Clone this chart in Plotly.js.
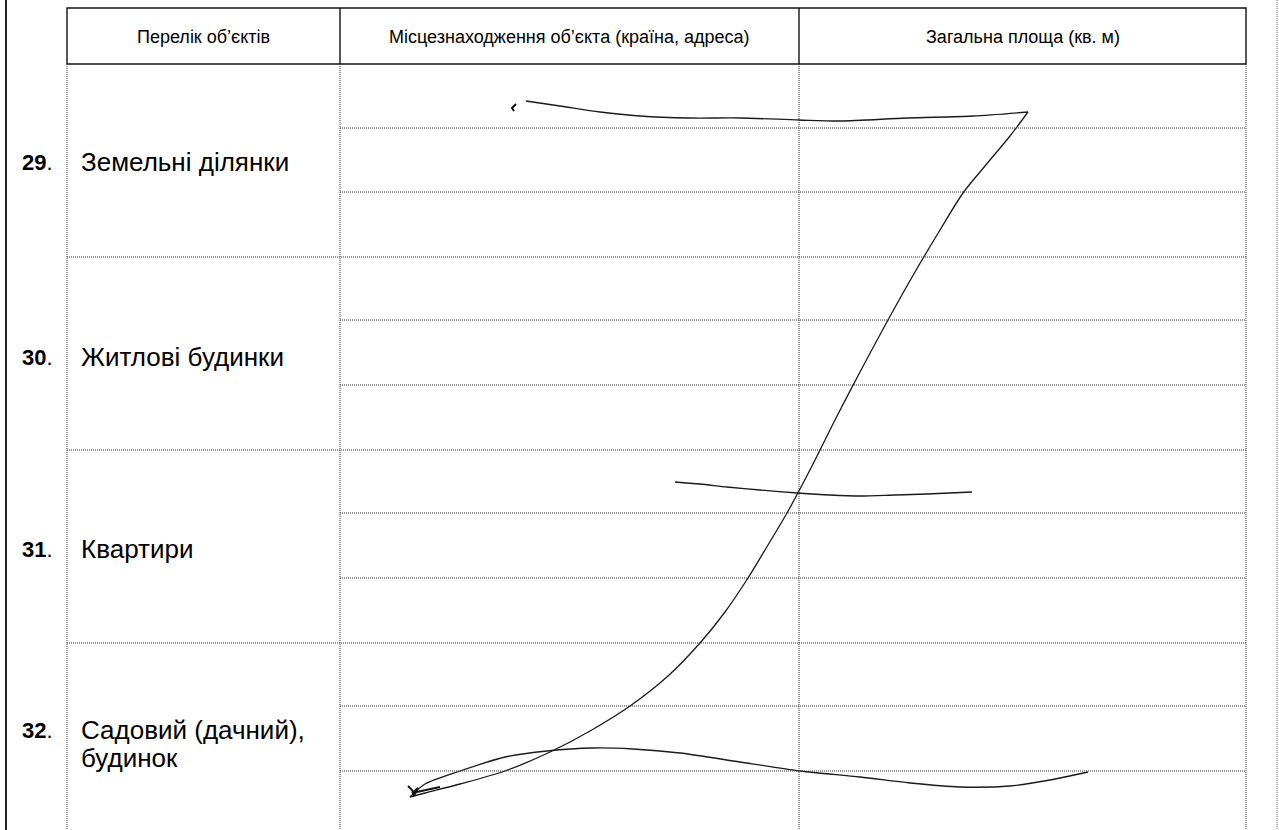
<!DOCTYPE html>
<html>
<head>
<meta charset="utf-8">
<script src="https://cdn.plot.ly/plotly-3.0.1.min.js"></script>
<style>html,body{margin:0;padding:0;background:#fff;}#chart{width:1279px;height:830px;}</style>
</head>
<body>
<div id="chart"></div>
<script>
// ---- text content ----
const headerLabels = ["Перелік об’єктів", "Місцезнаходження об’єкта (країна, адреса)", "Загальна площа (кв. м)"];
const rowNumbers = ["29", "30", "31", "32"];
const rowLabels = [["Земельні ділянки"], ["Житлові будинки"], ["Квартири"], ["Садовий (дачний),", "будинок"]];

// ---- handwritten strokes (page pixel coordinates) ----
const topStrokeX = [526, 560, 600, 640, 690, 740, 799, 840, 907, 973, 1028];
const topStrokeY = [101, 106, 112, 116, 118, 118, 120, 121, 118, 116, 112];
const diagStrokeX = [1028, 1010, 985, 963, 940, 915, 888, 860, 836, 812, 787, 768, 748, 725, 700, 668, 630, 590, 550, 505, 460, 425, 410];
const diagStrokeY = [112, 136, 166, 193, 230, 272, 320, 372, 418, 466, 513, 545, 578, 612, 643, 676, 706, 731, 752, 771, 784, 793, 797];
const lowStrokeX = [410, 425, 460, 505, 547, 593, 633, 680, 740, 800, 860, 910, 960, 1010, 1050, 1088];
const lowStrokeY = [797, 784, 771, 757, 751, 748, 749, 753, 762, 771, 777, 783, 787, 786, 780, 772];
const midStrokeX = [675, 700, 727, 760, 798, 830, 860, 895, 927, 972];
const midStrokeY = [482, 484, 487, 490, 493, 495, 496, 495, 494, 492];
const hookX = [516, 512, 514];
const hookY = [104, 108, 111];
const tickMarkX = [408, 412, 414, 418, 412, 440];
const tickMarkY = [786, 790, 796, 788, 793, 787];

// ---- layout geometry ----
const W = 1279, H = 830;
const colX = [67, 340, 799, 1246];
const headTop = 8, headBot = 64;
const groupLines = [257, 450, 643];
const subLines = [128, 192, 320, 385, 513, 578, 706, 771];
const rowCenters = [162, 357, 549, 730];
const lineStep = 28;

const shapes = [];
const dotLine = {color: '#333', width: 1, dash: '1px,1px'};
// outer page borders
shapes.push({type:'line', x0:6, x1:6, y0:0, y1:H, line:{color:'#222', width:2}});
shapes.push({type:'line', x0:1277, x1:1277, y0:0, y1:H, line:{color:'#666', width:1, dash:'1px,1px'}});
// header box
shapes.push({type:'rect', x0:colX[0], x1:colX[3], y0:headTop, y1:headBot, line:{color:'#111', width:1.4}});
shapes.push({type:'line', x0:colX[1], x1:colX[1], y0:headTop, y1:headBot, line:{color:'#111', width:1.4}});
shapes.push({type:'line', x0:colX[2], x1:colX[2], y0:headTop, y1:headBot, line:{color:'#111', width:1.4}});
// body verticals
colX.forEach(x => shapes.push({type:'line', x0:x, x1:x, y0:headBot, y1:H, line:dotLine}));
// group lines across all columns
groupLines.forEach(y => shapes.push({type:'line', x0:colX[0], x1:colX[3], y0:y, y1:y, line:dotLine}));
// sub rows in columns 2-3
subLines.forEach(y => shapes.push({type:'line', x0:colX[1], x1:colX[3], y0:y, y1:y, line:dotLine}));

const annotations = [];
const FONT = 'Liberation Sans, Arial, sans-serif';
headerLabels.forEach((t, i) => annotations.push({
  x:(colX[i]+colX[i+1])/2, y:(headTop+headBot)/2 + 1, text:t, showarrow:false,
  xanchor:'center', yanchor:'middle', font:{family:FONT, size:18, color:'#000'}
}));
rowNumbers.forEach((t, i) => annotations.push({
  x:20, y:rowCenters[i], text:'<b>'+t+'</b>.', showarrow:false,
  xanchor:'left', yanchor:'middle', font:{family:FONT, size:22, color:'#000'}
}));
rowLabels.forEach((lines, i) => lines.forEach((t, j) => annotations.push({
  x:79, y:rowCenters[i] + j*lineStep, text:t, showarrow:false,
  xanchor:'left', yanchor:'middle', align:'left', font:{family:FONT, size:26, color:'#000'}
})));

const strokeStyle = {color:'#1a1a1a', width:1.3, shape:'spline', smoothing:0.8};
const traces = [
  {x:topStrokeX, y:topStrokeY, mode:'lines', line:strokeStyle},
  {x:diagStrokeX, y:diagStrokeY, mode:'lines', line:strokeStyle},
  {x:lowStrokeX, y:lowStrokeY, mode:'lines', line:strokeStyle},
  {x:midStrokeX, y:midStrokeY, mode:'lines', line:strokeStyle},
  {x:hookX, y:hookY, mode:'lines', line:{color:'#111', width:2}},
  {x:tickMarkX, y:tickMarkY, mode:'lines', line:{color:'#111', width:1.8}}
];

const layout = {
  width:W, height:H, margin:{l:0, r:0, t:0, b:0},
  paper_bgcolor:'#fff', plot_bgcolor:'#fff', showlegend:false,
  xaxis:{range:[0, W], visible:false, fixedrange:true},
  yaxis:{range:[H, 0], visible:false, fixedrange:true},
  shapes:shapes, annotations:annotations
};
Plotly.newPlot('chart', traces, layout, {staticPlot:true, displayModeBar:false});
</script>
</body>
</html>
